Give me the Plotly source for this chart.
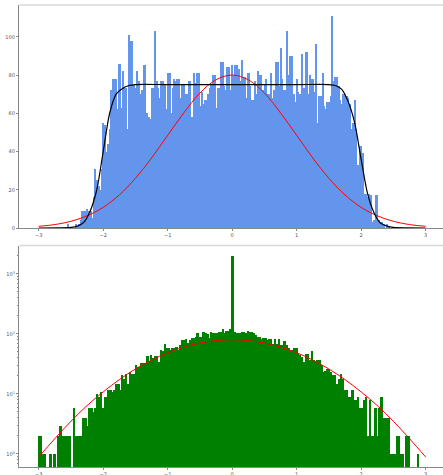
import plotly.graph_objects as go

# ---------------- data ----------------
# top histogram: 200 bins of width 0.025 starting at -2.55
top_start = -2.55
top_width = 0.025
top_counts = [
    2, 0, 0, 0, 0, 2, 1, 2, 4, 9,
    9, 9, 10, 9, 9, 5, 16, 31, 25, 22,
    20, 31, 55, 54, 40, 44, 52, 72, 78, 78,
    78, 62, 86, 63, 82, 73, 73, 52, 101, 98,
    98, 75, 73, 82, 77, 70, 72, 85, 85, 60,
    58, 57, 73, 73, 103, 77, 73, 68, 77, 77,
    75, 62, 81, 81, 60, 73, 78, 77, 78, 78,
    68, 75, 75, 70, 70, 77, 77, 58, 81, 76,
    81, 81, 64, 71, 65, 67, 67, 70, 73, 75,
    80, 80, 63, 73, 73, 87, 87, 74, 72, 84,
    84, 72, 85, 80, 85, 85, 83, 77, 88, 79,
    79, 68, 81, 74, 67, 67, 77, 70, 82, 80,
    80, 72, 75, 78, 70, 70, 81, 68, 72, 87,
    87, 74, 94, 78, 72, 72, 103, 80, 90, 90,
    70, 66, 78, 71, 70, 91, 73, 73, 92, 70,
    80, 78, 78, 71, 96, 55, 69, 69, 81, 64,
    62, 66, 66, 69, 111, 77, 79, 79, 74, 67,
    65, 70, 70, 69, 68, 65, 52, 55, 67, 52,
    33, 43, 43, 39, 18, 18, 16, 18, 17, 3,
    4, 17, 17, 4, 3, 3, 2, 0, 2, 1,
]

# bottom histogram: 200 bins of width 0.03 starting at -3.0
bot_start = -3.0
bot_width = 0.03
bot_counts = [
    2, 2, 1, 1, 0, 0, 1, 0, 1, 0,
    2, 3, 2, 2, 2, 2, 2, 0, 6, 2,
    2, 2, 2, 4, 4, 3, 6, 6, 5, 6,
    10, 9, 11, 6, 9, 9, 12, 12, 11, 12,
    15, 15, 12, 21, 18, 22, 15, 24, 22, 22,
    31, 29, 29, 33, 33, 33, 43, 36, 46, 40,
    44, 44, 35, 55, 53, 68, 60, 60, 55, 60,
    60, 61, 55, 66, 80, 80, 85, 71, 82, 88,
    88, 92, 104, 92, 92, 109, 106, 101, 88, 109,
    104, 104, 106, 111, 111, 121, 104, 114, 112, 125,
    2018, 109, 104, 104, 104, 109, 111, 104, 112, 109,
    109, 104, 97, 92, 92, 85, 87, 87, 82, 85,
    85, 70, 85, 70, 85, 66, 66, 78, 66, 59,
    55, 55, 60, 60, 48, 45, 42, 35, 48, 48,
    37, 52, 37, 35, 37, 37, 31, 24, 25, 27,
    27, 24, 21, 21, 15, 18, 22, 18, 12, 12,
    9, 9, 12, 8, 8, 9, 6, 6, 8, 9,
    2, 8, 2, 2, 6, 2, 6, 9, 4, 4,
    4, 4, 1, 1, 1, 2, 2, 1, 1, 0,
    2, 2, 0, 0, 0, 0, 1, 0, 0, 0,
]

# red (normal) curve
red_x = [-3.0, -2.75, -2.5, -2.25, -2.0, -1.75, -1.5, -1.25, -1.0, -0.75, -0.5, -0.25, 0.0,
         0.25, 0.5, 0.75, 1.0, 1.25, 1.5, 1.75, 2.0, 2.25, 2.5, 2.75, 3.0]
red_y = [0.89, 1.8, 3.5, 6.4, 10.8, 17.3, 26.0, 36.6, 48.5, 60.2, 70.6, 77.5, 80.0,
         77.5, 70.6, 60.2, 48.5, 36.6, 26.0, 17.3, 10.8, 6.4, 3.5, 1.8, 0.89]

# black (flat-top) curve
black_x = [-3.0, -2.7, -2.5, -2.4, -2.3, -2.2, -2.1, -2.0, -1.9, -1.8, -1.7, -1.6, -1.5,
           -1.0, 0.0, 1.0, 1.5, 1.6, 1.7, 1.8, 1.9, 2.0, 2.1, 2.2, 2.3, 2.4, 2.5, 2.7, 3.0]
black_y = [0.0, 0.05, 0.3, 1.0, 3.0, 9.0, 20.0, 40.0, 60.0, 70.0, 73.0, 74.5, 75.0,
           75.0, 75.0, 75.0, 75.0, 74.5, 72.5, 66.0, 55.0, 36.0, 18.0, 8.0, 2.6, 1.0, 0.3, 0.05, 0.0]

x_ticks = [-3, -2, -1, 0, 1, 2, 3]
top_y_ticks = [0, 20, 40, 60, 80, 100]
bot_y_tickvals = [1, 10, 100, 1000]
bot_y_ticktext = ["10<sup>0</sup>", "10<sup>1</sup>", "10<sup>2</sup>", "10<sup>3</sup>"]

# ---------------- figure ----------------
top_x = [top_start + top_width * (i + 0.5) for i in range(len(top_counts))]
bot_x = [bot_start + bot_width * (i + 0.5) for i in range(len(bot_counts))]
bot_y = [c if c > 0 else None for c in bot_counts]

fig = go.Figure()
fig.add_trace(go.Bar(x=top_x, y=top_counts, width=top_width, marker=dict(color="#6495ED", line=dict(width=0)),
                     xaxis="x", yaxis="y", showlegend=False))
fig.add_trace(go.Scatter(x=red_x, y=red_y, mode="lines", line=dict(color="red", width=1, shape="spline"),
                         xaxis="x", yaxis="y", showlegend=False))
fig.add_trace(go.Scatter(x=black_x, y=black_y, mode="lines", line=dict(color="black", width=1.2, shape="spline", smoothing=0.8),
                         xaxis="x", yaxis="y", showlegend=False))

fig.add_trace(go.Bar(x=bot_x, y=bot_y, width=bot_width, marker=dict(color="#008000", line=dict(width=0)),
                     xaxis="x2", yaxis="y2", showlegend=False))
fig.add_trace(go.Scatter(x=red_x, y=red_y, mode="lines", line=dict(color="red", width=1, shape="spline"),
                         xaxis="x2", yaxis="y2", showlegend=False))

W, H = 443, 475
xdom = [19.4 / W, 1.0]
top_dom = [(H - 228) / H, (H - 5) / H]
bot_dom = [(H - 467.0) / H, (H - 245.5) / H]

tickfont = dict(family="DejaVu Sans", size=5, color="#555555")
axis_common = dict(showgrid=False, zeroline=False, showline=True, linecolor="#888888", linewidth=1,
                   ticks="outside", tickwidth=0.6, tickcolor="#888888",
                   tickfont=tickfont, automargin=False)

fig.update_layout(
    width=W, height=H,
    margin=dict(l=0, r=0, t=0, b=0),
    paper_bgcolor="white", plot_bgcolor="white",
    bargap=0, barmode="overlay",
    xaxis=dict(domain=xdom, anchor="y", range=[-3.3, 3.27], tickvals=x_ticks, ticklen=2, **axis_common),
    yaxis=dict(domain=top_dom, anchor="x", range=[0, 116.6], tickvals=top_y_ticks, ticklen=2.5, **axis_common),
    xaxis2=dict(domain=xdom, anchor="y2", range=[-3.3, 3.27], tickvals=x_ticks, ticklen=1.5, **axis_common),
    yaxis2=dict(domain=bot_dom, anchor="x2", type="log", range=[-0.218, 3.473],
                tickvals=bot_y_tickvals, ticktext=bot_y_ticktext, ticklen=2.5,
                minor=dict(ticks="outside", ticklen=1.5, tickcolor="#888888", dtick="D1"),
                **axis_common),
    shapes=[
        dict(type="line", xref="paper", yref="paper", x0=xdom[0], x1=1, y0=top_dom[1], y1=top_dom[1],
             line=dict(color="#d8d8d8", width=1.5)),
        dict(type="line", xref="paper", yref="paper", x0=xdom[0], x1=1, y0=bot_dom[1], y1=bot_dom[1],
             line=dict(color="#d8d8d8", width=1.5)),
    ],
)

fig.write_html(
    "out.html",
    config={"displayModeBar": False},
    post_script="document.body.style.margin='0px';document.body.style.padding='0px';document.body.style.overflow='hidden';",
)
